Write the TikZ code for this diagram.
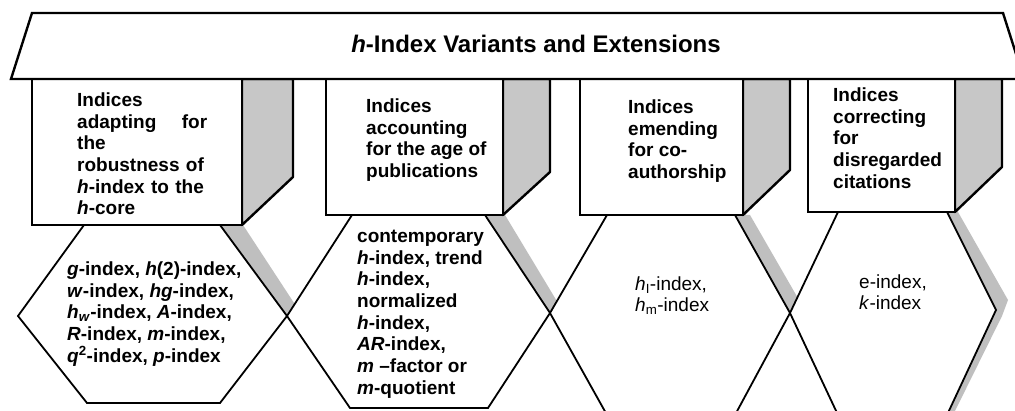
\documentclass[tikz,border=0pt]{standalone}
\usepackage{fontspec}
\setmainfont{Liberation Sans}
\tikzset{
  variants/.style={
    x=1pt, y=-1pt,
    roof/.style={draw=black, fill=white, line width=2.4pt},
    pillar/.style={draw=black, fill=white, line width=2.4pt},
    pillar shade/.style={draw=black, fill=black!22, line width=2.4pt, line join=round},
    hexa/.style={draw=black, fill=white, line width=1.8pt},
    hexa shade/.style={fill=black!25, draw=none},
    caption/.style={
        anchor=north west,
        inner sep=0pt,
        align=left,
        font=\bfseries\fontsize{19}{21.7}\selectfont,
    },
    title/.style={anchor=base, inner sep=0pt, font=\bfseries\fontsize{24}{28}\selectfont}
  }
}
\newcommand{\vi}[1]{\textit{#1}}

\begin{document}
\begin{tikzpicture}[variants]
    \useasboundingbox (0,0) rectangle (1015,411);
    \clip (0,0) rectangle (1015,411);
    \fill[white] (0,0) rectangle (1015,411);

    \fill[hexa shade] (220,225) -- (243,225) -- (296,306) -- (287,316) -- cycle;
    \fill[hexa shade] (485,215) -- (505,215) -- (558,303) -- (550,313) -- cycle;
    \fill[hexa shade] (735,215) -- (750,215) -- (799,300) -- (790,313) -- cycle;
    \fill[hexa shade] (947,212) -- (958,212) -- (1008,300) -- (1002,316) -- (953,415) -- (945,415) -- cycle;

    \draw[hexa] (18,316) -- (84,225) -- (220,225) -- (287,316) -- (220,403) -- (87,403) -- cycle;
    \draw[hexa] (287,316) -- (352,215) -- (485,215) -- (550,313) -- (488,408) -- (350,408) -- cycle;
    \draw[hexa] (550,313) -- (607,215) -- (735,215) -- (790,313) -- (735,415) -- (607,415) -- cycle;
    \draw[hexa] (790,313) -- (838,212) -- (947,212) -- (996,310) -- (947,415) -- (838,415) -- cycle;

    \draw[pillar shade] (242,79) -- (293,79) -- (293,177) -- (242,225) -- cycle;
    \draw[pillar shade] (503,79) -- (550,79) -- (550,172) -- (503,215) -- cycle;
    \draw[pillar shade] (743,79) -- (790,79) -- (790,170) -- (743,215) -- cycle;
    \draw[pillar shade] (955,79) -- (1002,79) -- (1002,167) -- (955,212) -- cycle;

    \draw[pillar] (32,79) rectangle (242,225);
    \draw[pillar] (326,79) rectangle (503,215);
    \draw[pillar] (580,79) rectangle (743,215);
    \draw[pillar] (808,79) rectangle (955,212);

    \draw[roof] (32,13) -- (1003,13) -- (1024,79) -- (11,79) -- cycle;

    \node[title] (head) at (536,53) {\vi{h}-Index Variants and Extensions};

    \node[caption, text width=130pt] (robust) at (77,91) {\strut Indices\\
        adapting\hfill for\\ the\\ robustness of\\ \vi{h}-index to the\\ \vi{h}-core};
    \node[caption] (age) at (366,97) {\strut Indices\\ accounting\\ for the age of\\ publications};
    \node[caption] (coauth) at (628,98) {\strut Indices\\ emending\\ for co-\\ authorship};
    \node[caption] (cites) at (833,86) {\strut Indices\\ correcting\\ for\\ disregarded\\ citations};

    \node[caption] (robustidx) at (67,260) {\strut \vi{g}-index, \vi{h}(2)-index,\\
        \vi{w}-index, \vi{hg}-index,\\
        \vi{h}\textsubscript{\vi{w}}-index, \vi{A}-index,\\
        \vi{R}-index, \vi{m}-index,\\
        \vi{q}\textsuperscript{2}-index, \vi{p}-index};
    \node[caption] (ageidx) at (357,227) {\strut contemporary\\ \vi{h}-index, trend\\ \vi{h}-index,\\
        normalized\\ \vi{h}-index,\\ \vi{AR}-index,\\ \vi{m} \textendash factor or\\ \vi{m}-quotient};
    \node[caption, font=\fontsize{19}{21.5}\selectfont] (coauthidx) at (635,275)
        {\strut \vi{h}\textsubscript{I}-index,\\ \vi{h}\textsubscript{m}-index};
    \node[caption, font=\fontsize{19}{21.5}\selectfont] (citesidx) at (859,273)
        {\strut e-index,\\ \vi{k}-index};
\end{tikzpicture}
\end{document}
